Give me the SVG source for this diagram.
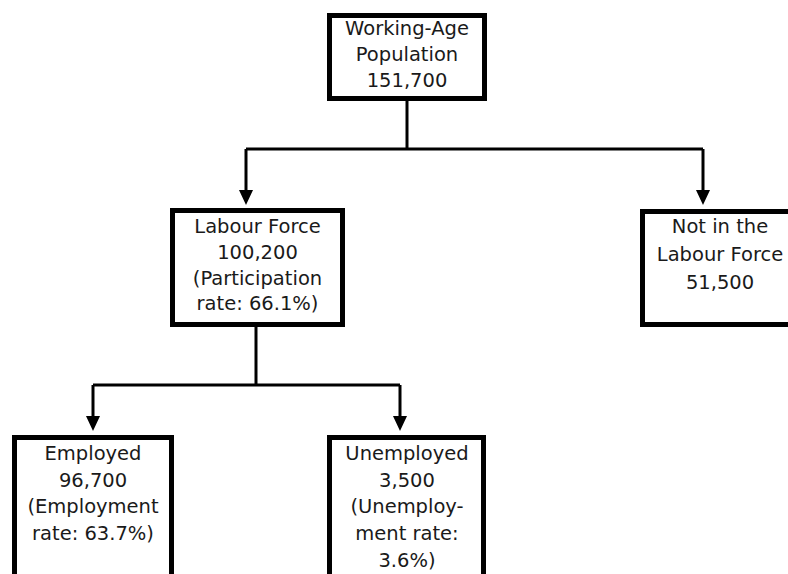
<svg xmlns="http://www.w3.org/2000/svg" width="788" height="574" viewBox="0 0 788 574">
<style>
.box{fill:#fff;stroke:#000;stroke-width:5}
.ln{fill:none;stroke:#000;stroke-width:3}
text{font-family:"DejaVu Sans",Verdana,sans-serif;font-size:19.5px;fill:#1a1a1a;text-anchor:middle}
</style>
<rect width="788" height="574" fill="#fff"/>
<g id="connectors">
<path class="ln" d="M407,100 V149"/>
<path class="ln" d="M246,149 H703"/>
<path class="ln" d="M246,149 V190"/>
<path d="M239,190 H253 L246,205 Z"/>
<path class="ln" d="M703,149 V190"/>
<path d="M696,190 H710 L703,205 Z"/>
<path class="ln" d="M256,326 V385"/>
<path class="ln" d="M93,385 H400"/>
<path class="ln" d="M93,385 V416"/>
<path d="M86,416 H100 L93,431 Z"/>
<path class="ln" d="M400,385 V416"/>
<path d="M393,416 H407 L400,431 Z"/>
</g>
<g id="working-age">
<rect class="box" x="329.5" y="15.5" width="155" height="83"/>
<text x="407" y="35">Working-Age</text>
<text x="407" y="61">Population</text>
<text x="407" y="87">151,700</text>
</g>
<g id="labour-force">
<rect class="box" x="172.5" y="210.5" width="170" height="114"/>
<text x="257.5" y="233">Labour Force</text>
<text x="257.5" y="259">100,200</text>
<text x="257.5" y="285">(Participation</text>
<text x="257.5" y="310">rate: 66.1%)</text>
</g>
<g id="not-in-labour-force">
<rect class="box" x="642.5" y="211.5" width="155" height="113"/>
<text x="720" y="233">Not in the</text>
<text x="720" y="261">Labour Force</text>
<text x="720" y="289">51,500</text>
</g>
<g id="employed">
<rect class="box" x="14.5" y="437.5" width="157" height="150"/>
<text x="93" y="459.5">Employed</text>
<text x="93" y="486.5">96,700</text>
<text x="93" y="513">(Employment</text>
<text x="93" y="540">rate: 63.7%)</text>
</g>
<g id="unemployed">
<rect class="box" x="329.5" y="437.5" width="154" height="150"/>
<text x="407" y="459.5">Unemployed</text>
<text x="407" y="486.5">3,500</text>
<text x="407" y="513">(Unemploy-</text>
<text x="407" y="540">ment rate:</text>
<text x="407" y="566.5">3.6%)</text>
</g>
</svg>
